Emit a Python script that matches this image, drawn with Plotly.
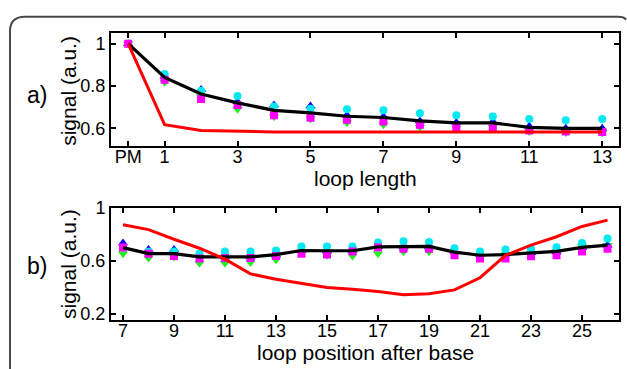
import plotly.graph_objects as go

W, H = 627, 369

# ---- panel a) data ----
a_x = [0, 1, 2, 3, 4, 5, 6, 7, 8, 9, 10, 11, 12, 13]
a_black = [1.0, 0.84, 0.762, 0.72, 0.685, 0.673, 0.657, 0.651, 0.635, 0.626, 0.626, 0.604, 0.60, 0.60]
a_red = [1.0, 0.617, 0.59, 0.585, 0.583, 0.582, 0.582, 0.582, 0.582, 0.582, 0.582, 0.582, 0.582, 0.582]
a_cyan = [1.0, 0.857, 0.777, 0.753, 0.703, 0.692, 0.69, 0.685, 0.671, 0.662, 0.656, 0.644, 0.638, 0.644]
a_blue = [1.0, 0.845, 0.783, 0.725, 0.71, 0.705, 0.662, 0.656, 0.635, 0.628, 0.632, 0.61, 0.60, 0.60]
a_green = [1.0, 0.818, 0.75, 0.69, 0.655, 0.645, 0.626, 0.617, 0.605, 0.60, 0.605, 0.585, 0.58, 0.578]
a_magenta = [1.0, 0.83, 0.738, 0.71, 0.662, 0.65, 0.64, 0.632, 0.617, 0.605, 0.60, 0.59, 0.585, 0.583]
a_tickvals = [0, 1, 3, 5, 7, 9, 11, 13]
a_ticktext = ["PM", "1", "3", "5", "7", "9", "11", "13"]

# ---- panel b) data ----
b_x = list(range(7, 27))
b_black = [0.702, 0.656, 0.656, 0.632, 0.632, 0.632, 0.649, 0.68, 0.678, 0.678, 0.707, 0.711,
           0.711, 0.668, 0.644, 0.649, 0.66, 0.673, 0.704, 0.721]
b_red = [0.874, 0.838, 0.765, 0.697, 0.615, 0.503, 0.462, 0.432, 0.40, 0.387, 0.37, 0.345,
         0.353, 0.382, 0.474, 0.644, 0.721, 0.784, 0.862, 0.91]
b_cyan = [0.70, 0.67, 0.673, 0.656, 0.673, 0.673, 0.68, 0.711, 0.711, 0.711, 0.74, 0.75,
          0.745, 0.697, 0.673, 0.687, 0.692, 0.704, 0.736, 0.77]
b_blue = [0.736, 0.687, 0.687, 0.65, 0.63, 0.63, 0.645, 0.68, 0.678, 0.68, 0.71, 0.71,
          0.71, 0.668, 0.649, 0.656, 0.663, 0.668, 0.70, 0.72]
b_green = [0.656, 0.624, 0.63, 0.583, 0.583, 0.59, 0.61, 0.67, 0.644, 0.639, 0.656, 0.67,
           0.67, 0.66, 0.64, 0.65, 0.66, 0.675, 0.71, 0.72]
b_magenta = [0.702, 0.656, 0.639, 0.62, 0.624, 0.624, 0.639, 0.656, 0.649, 0.673, 0.702, 0.694,
             0.694, 0.644, 0.62, 0.62, 0.637, 0.644, 0.673, 0.694]
b_tickvals = [7, 9, 11, 13, 15, 17, 19, 21, 23, 25]

FONT = "Liberation Sans, Arial, Helvetica, sans-serif"

fig = go.Figure()

def add_panel(xs, cyan, blue, green, magenta, black, red, xa, ya):
    for vals, sym, col, sz in [(green, "triangle-down", "#22ee22", 9),
                               (blue, "triangle-up", "#0000ff", 9),
                               (cyan, "circle", "#00e8f0", 8),
                               (magenta, "square", "#ff00ff", 8)]:
        fig.add_trace(go.Scatter(x=xs, y=vals, mode="markers", xaxis=xa, yaxis=ya,
                                 marker=dict(symbol=sym, color=col, size=sz, line=dict(width=0)),
                                 showlegend=False))
    fig.add_trace(go.Scatter(x=xs, y=black, mode="lines", xaxis=xa, yaxis=ya,
                             line=dict(color="black", width=3.2), showlegend=False))
    fig.add_trace(go.Scatter(x=xs, y=red, mode="lines", xaxis=xa, yaxis=ya,
                             line=dict(color="#ff0000", width=3), showlegend=False))

add_panel(a_x, a_cyan, a_blue, a_green, a_magenta, a_black, a_red, "x", "y")
add_panel(b_x, b_cyan, b_blue, b_green, b_magenta, b_black, b_red, "x2", "y2")

def px_x(p):
    return p / W

def px_y(p):
    return 1 - p / H

axis_common = dict(showline=True, linecolor="black", linewidth=2, mirror="ticks",
                   ticks="inside", ticklen=5, tickwidth=2, tickcolor="black",
                   showgrid=False, zeroline=False,
                   tickfont=dict(family=FONT, size=18, color="black"))

fig.update_layout(
    width=W, height=H,
    margin=dict(l=0, r=0, t=0, b=0),
    paper_bgcolor="white", plot_bgcolor="white",
    xaxis=dict(domain=[px_x(111), px_x(619)], range=[-0.47, 13.46], anchor="y",
               tickmode="array", tickvals=a_tickvals, ticktext=a_ticktext,
               ticklabelstandoff=-6, **axis_common),
    yaxis=dict(domain=[px_y(141), px_y(24)], range=[0.518, 1.05], anchor="x",
               tickmode="array", tickvals=[0.6, 0.8, 1.0], ticktext=["0.6", "0.8", "1"],
               **axis_common),
    xaxis2=dict(domain=[px_x(111), px_x(619)], range=[6.53, 26.45], anchor="y2",
                tickmode="array", tickvals=b_tickvals, ticklabelstandoff=-6, **axis_common),
    yaxis2=dict(domain=[px_y(322), px_y(206)], range=[0.156, 1.0], anchor="x2",
                tickmode="array", tickvals=[0.2, 0.6, 1.0], ticktext=["0.2", "0.6", "1"],
                **axis_common),
)

ann_font = dict(family=FONT, size=21, color="black")
anns = [
    dict(text="loop length", x=px_x(365), y=px_y(175), font=ann_font),
    dict(text="loop position after base", x=px_x(365), y=px_y(356), font=ann_font),
    dict(text="signal (a.u.)", x=px_x(69), y=px_y(84), font=ann_font, textangle=-90),
    dict(text="signal (a.u.)", x=px_x(69), y=px_y(264), font=ann_font, textangle=-90),
    dict(text="a)", x=px_x(37), y=px_y(88), font=dict(family=FONT, size=23, color="black")),
    dict(text="b)", x=px_x(37), y=px_y(266), font=dict(family=FONT, size=23, color="black")),
]
for a in anns:
    fig.add_annotation(xref="paper", yref="paper", xanchor="center", yanchor="middle",
                       showarrow=False, **a)

# outer rounded frame
fig.add_shape(type="path", xref="paper", yref="paper",
              path=(f"M {px_x(10)} {px_y(380)} L {px_x(10)} {px_y(22)} "
                    f"Q {px_x(10)} {px_y(7)} {px_x(25)} {px_y(7)} "
                    f"L {px_x(618)} {px_y(7)} Q {px_x(624)} {px_y(7)} {px_x(626)} {px_y(10)}"),
              line=dict(color="#4a4a4a", width=2))

fig.write_html("out.html")
